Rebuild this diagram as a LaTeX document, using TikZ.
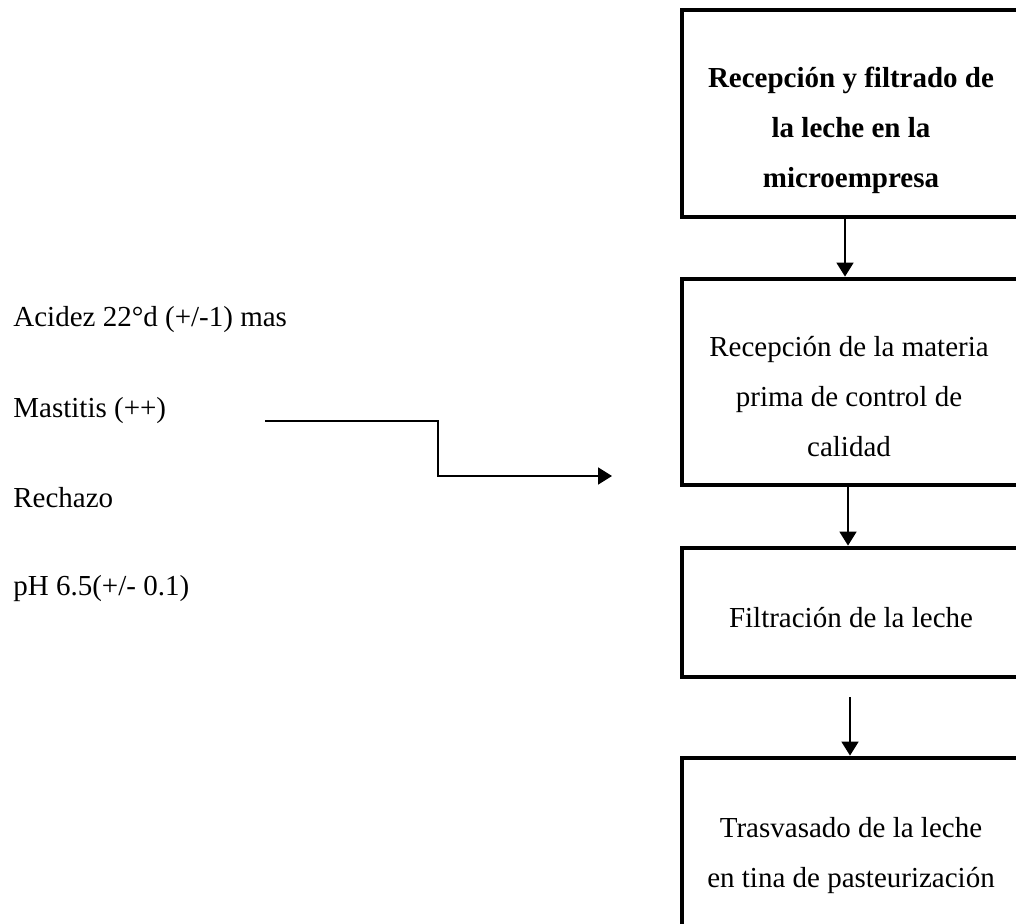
\documentclass[tikz,border=0pt]{standalone}
\usepackage{fontspec}
\setmainfont{Liberation Serif}
\usetikzlibrary{arrows.meta}

\begin{document}
\begin{tikzpicture}[x=0.5pt,y=-0.5pt,
  stepbox/.style={draw, line width=2.4pt, minimum width=168pt, inner sep=0pt},
  boxtext/.style={align=center, font=\fontsize{14.5}{25}\selectfont, inner sep=0pt, anchor=base},
  sidetext/.style={font=\fontsize{14.5}{17}\selectfont, inner sep=0pt, anchor=base west},
  flow/.style={line width=0.9pt, -{Triangle[length=7pt,width=8.5pt]}}]
\useasboundingbox (0,0) rectangle (1016,924);
\clip (0,0) rectangle (1016,924);

% process boxes
\node[stepbox, minimum height=103.5pt] (b1) at (850,113.5) {};
\node[stepbox, minimum height=103pt] (b2) at (850,382) {};
\node[stepbox, minimum height=64.5pt] (b3) at (850,612.5) {};
\node[stepbox, minimum height=101pt] (b4) at (850,859) {};

% texts sit on the baseline of their last line
\node[boxtext, font=\fontsize{14.5}{25}\selectfont\bfseries] (t1) at (851,188)
  {Recepción y filtrado de\\la leche en la\\microempresa};
\node[boxtext] (t2) at (849,457) {Recepción de la materia\\prima de control de\\calidad};
\node[boxtext] (t3) at (851,627) {Filtración de la leche};
\node[boxtext] (t4) at (851,887) {Trasvasado de la leche\\en tina de pasteurización};

% side notes
\node[sidetext] (l1) at (13,327) {Acidez 22°d (+/-1) mas};
\node[sidetext] (l2) at (13,418) {Mastitis (++)};
\node[sidetext] (l3) at (13,507) {Rechazo};
\node[sidetext] (l4) at (13,595) {pH 6.5(+/- 0.1)};

\coordinate (r0) at (265,421);
\coordinate (r1) at (612,476);
\coordinate (a3) at (850,697);

\draw[flow] ([xshift=-2.5pt]b1.south) -- ([xshift=-2.5pt]b2.north);
\draw[flow] ([xshift=-1pt]b2.south) -- ([xshift=-1pt]b3.north);
\draw[flow] (a3) -- (b4.north);
\draw[flow] (r0) -| (438,476) -- (r1);
\end{tikzpicture}
\end{document}
